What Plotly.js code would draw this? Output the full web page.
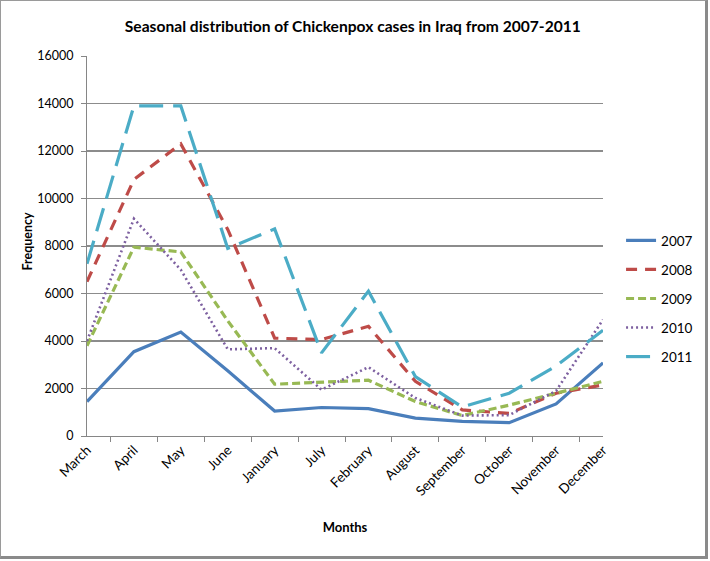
<!DOCTYPE html>
<html>
<head>
<meta charset="utf-8">
<script src="https://cdn.plot.ly/plotly-3.0.1.min.js"></script>
<style>
  html, body { margin: 0; padding: 0; background: #fff; }
  #chart { width: 710px; height: 561px; }
  #frame { position: absolute; left: 0; top: 0; width: 704px; height: 555px;
           border-left: 1px solid #9a9a9a; border-top: 1px solid #9a9a9a;
           border-right: 3px solid #8a8a8a; border-bottom: 3px solid #8a8a8a;
           pointer-events: none; }
</style>
</head>
<body>
<div id="chart"></div>
<div id="frame"></div>
<script>
const months = ["March","April","May","June","January","July","February","August","September","October","November","December"];
const y2007 = [1450, 3550, 4380, 2750, 1050, 1200, 1150, 750, 620, 560, 1350, 3080];
const y2008 = [6500, 10800, 12300, 8700, 4120, 4060, 4620, 2300, 1100, 950, 1800, 2150];
const y2009 = [3800, 7950, 7750, 4850, 2180, 2280, 2350, 1450, 860, 1300, 1800, 2300];
const y2010 = [4000, 9150, 7000, 3650, 3700, 1950, 2900, 1600, 860, 880, 1900, 4900];
const y2011 = [7250, 13900, 13900, 7900, 8720, 3500, 6100, 2500, 1220, 1800, 2950, 4450];
const seriesNames = ["2007","2008","2009","2010","2011"];
const yTicks = [0, 2000, 4000, 6000, 8000, 10000, 12000, 14000, 16000];

const styles = [
  {color: "#4A7EBB", dash: "solid", width: 3.2},
  {color: "#BE4B48", dash: "11px,8px", width: 3.2},
  {color: "#98B954", dash: "8px,4px", width: 3.2},
  {color: "#7D60A0", dash: "2px,3px", width: 2.6},
  {color: "#4BACC6", dash: "24px,10px", width: 3.2}
];
const allY = [y2007, y2008, y2009, y2010, y2011];

const traces = allY.map((ys, i) => ({
  type: "scatter",
  mode: "lines",
  x: months,
  y: ys,
  name: seriesNames[i],
  legendgroup: seriesNames[i],
  line: {color: styles[i].color, dash: styles[i].dash, width: styles[i].width}
}));

const font = "Lato, 'Open Sans', sans-serif";

const layout = {
  width: 710,
  height: 561,
  margin: {l: 87, r: 107, t: 56, b: 125, pad: 0},
  paper_bgcolor: "#ffffff",
  plot_bgcolor: "#ffffff",
  font: {family: font, size: 12, color: "#000"},
  title: {
    text: "<b>Seasonal distribution of Chickenpox cases in Iraq from 2007-2011</b>",
    font: {family: font, size: 15.6, color: "#000"},
    x: 0.497, xanchor: "center",
    y: 0.952, yanchor: "middle"
  },
  xaxis: {
    type: "category",
    tickangle: -45,
    tickson: "boundaries",
    ticks: "outside",
    ticklen: 5,
    tickcolor: "#868686",
    showline: true,
    linecolor: "#868686",
    linewidth: 1,
    showgrid: false,
    zeroline: false,
    tickfont: {family: font, size: 13.5, color: "#000"},
    title: {text: "<b>Months</b>", font: {family: font, size: 13, color: "#000"}, standoff: 24},
    automargin: false,
    fixedrange: true
  },
  yaxis: {
    range: [0, 16000],
    tickvals: yTicks,
    ticktext: yTicks.map(String),
    ticks: "outside",
    ticklen: 5,
    tickcolor: "#868686",
    showline: true,
    linecolor: "#868686",
    linewidth: 1,
    showgrid: true,
    gridcolor: "#8c8c8c",
    gridwidth: 1.5,
    zeroline: false,
    ticklabelstandoff: 5,
    tickfont: {family: font, size: 12.5, color: "#000"},
    automargin: false,
    fixedrange: true
  },
  annotations: [{
    text: "<b>Frequency</b>",
    textangle: -90,
    xref: "paper", yref: "paper",
    x: -0.1153, y: 0.513,
    xanchor: "center", yanchor: "middle",
    showarrow: false,
    font: {family: font, size: 12.5, color: "#000"}
  }],
  showlegend: true,
  legend: {
    x: 1.035, xanchor: "left",
    y: 0.555, yanchor: "top",
    font: {family: font, size: 13.5, color: "#000"},
    tracegroupgap: 8.5,
    bgcolor: "rgba(0,0,0,0)"
  }
};

Plotly.newPlot("chart", traces, layout, {staticPlot: true, displayModeBar: false});
</script>
</body>
</html>
